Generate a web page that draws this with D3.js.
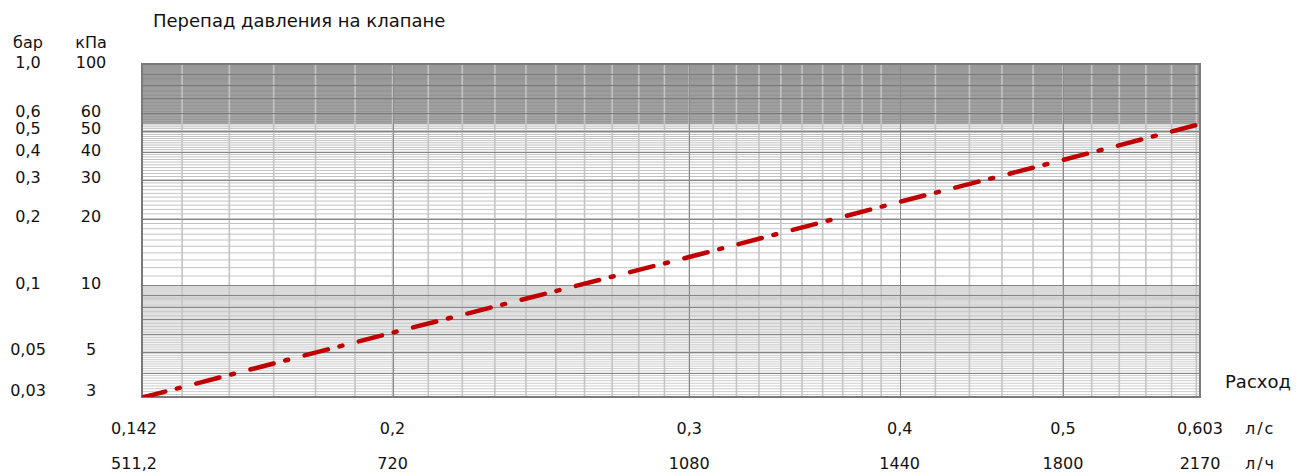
<!DOCTYPE html>
<html>
<head>
<meta charset="utf-8">
<script src="https://cdn.jsdelivr.net/npm/d3@7"></script>
<style>
	body { margin:0; background:#fff; }
	text { font-family:"DejaVu Sans", sans-serif; fill:#111; }
</style>
</head>
<body>
<div id="chart"></div>
<script>
// расход, л/с и л/ч
var flowLs     = [0.142, 0.2, 0.3, 0.4, 0.5, 0.603];
var flowLsText = ['0,142', '0,2', '0,3', '0,4', '0,5', '0,603'];
var flowLhText = ['511,2', '720', '1080', '1440', '1800', '2170'];
// перепад давления по кривой, кПа
var dpKpa      = [3.1, 6.1, 13.4, 23.8, 36.8, 53.5];
// шкала давления
var kpaTicks   = [100, 60, 50, 40, 30, 20, 10, 5, 3];
var kpaText    = ['100', '60', '50', '40', '30', '20', '10', '5', '3'];
var barText    = ['1,0', '0,6', '0,5', '0,4', '0,3', '0,2', '0,1', '0,05', '0,03'];

var W = 1310, H = 476;
var margin = {top:64, right:110, bottom:79, left:142};
var pw = W - margin.left - margin.right;
var ph = H - margin.top - margin.bottom;

var svg = d3.select('#chart').append('svg')
	.attr('width', W)
	.attr('height', H);

var x = d3.scaleLog().domain([0.142, 0.603]).range([margin.left, margin.left + pw]);
var y = d3.scaleLog().domain([3.12, 100]).range([margin.top + ph, margin.top]);

var dpMax = dpKpa[dpKpa.length - 1];

svg.append('defs').append('clipPath').attr('id', 'plotClip')
	.append('rect')
	.attr('x', margin.left).attr('y', margin.top)
	.attr('width', pw).attr('height', ph);

var grid = svg.append('g').attr('clip-path', 'url(#plotClip)');

// тёмная полоса выше максимального перепада
grid.append('rect')
	.attr('x', margin.left)
	.attr('y', y(100))
	.attr('width', pw)
	.attr('height', y(dpMax) - y(100))
	.attr('fill', '#b0b0b0');

// мелкие горизонтальные линии
var hMinor = d3.range(31, 100).map(function(d){ return d / 10; })
	.concat(d3.range(11, 100));
grid.selectAll('line.hmin').data(hMinor).enter().append('line')
	.attr('class', 'hmin')
	.attr('x1', margin.left).attr('x2', margin.left + pw)
	.attr('y1', function(d){ return y(d); })
	.attr('y2', function(d){ return y(d); })
	.attr('stroke', function(d){ return d > dpMax ? '#939393' : (d < 10 ? '#cdcdcd' : '#c2c2c2'); })
	.attr('stroke-width', 1);

// вертикальные линии
var vMinor = d3.range(15, 40).map(function(d){ return d / 100; })
	.concat(d3.range(21, 31).map(function(d){ return d / 50; }));
grid.selectAll('line.vmin').data(vMinor).enter().append('line')
	.attr('class', 'vmin')
	.attr('x1', function(d){ return x(d); })
	.attr('x2', function(d){ return x(d); })
	.attr('y1', margin.top).attr('y2', margin.top + ph)
	.attr('stroke', '#c4c4c4')
	.attr('stroke-width', 1.6);

// основные горизонтальные
var hMajor = [4, 5, 6, 7, 8, 9, 10, 20, 30, 40, 50, 60, 70, 80, 90];
grid.selectAll('line.hmaj').data(hMajor).enter().append('line')
	.attr('class', 'hmaj')
	.attr('x1', margin.left).attr('x2', margin.left + pw)
	.attr('y1', function(d){ return Math.round(y(d)) + 0.5; })
	.attr('y2', function(d){ return Math.round(y(d)) + 0.5; })
	.attr('stroke', function(d){ return d > dpMax ? '#7a7a7a' : '#858585'; })
	.attr('stroke-width', 1);

// основные вертикальные
var vMajor = [0.2, 0.3, 0.4, 0.5];
grid.selectAll('line.vmaj').data(vMajor).enter().append('line')
	.attr('class', 'vmaj')
	.attr('x1', function(d){ return Math.round(x(d)) + 0.5; })
	.attr('x2', function(d){ return Math.round(x(d)) + 0.5; })
	.attr('y1', margin.top).attr('y2', margin.top + ph)
	.attr('stroke', '#8a8a8a')
	.attr('stroke-width', 1);

// рамка
svg.append('rect')
	.attr('x', margin.left).attr('y', margin.top)
	.attr('width', pw).attr('height', ph)
	.attr('fill', 'none')
	.attr('stroke', '#7a7a7a')
	.attr('stroke-width', 2);

// кривая
var pts = flowLs.map(function(q, i){ return [q, dpKpa[i]]; });
svg.append('path')
	.datum(pts)
	.attr('clip-path', 'url(#plotClip)')
	.attr('d', d3.line().x(function(d){ return x(d[0]); }).y(function(d){ return y(d[1]); }))
	.attr('fill', 'none')
	.attr('stroke', '#c00000')
	.attr('stroke-width', 4.5)
	.attr('stroke-linecap', 'round')
	.attr('stroke-dasharray', '24 12 3 17');

// подписи
svg.append('text')
	.attr('x', 153).attr('y', 21).attr('dy', '0.35em')
	.attr('font-size', '18px')
	.text('Перепад давления на клапане');

svg.append('text').attr('x', 28).attr('y', 42).attr('dy', '0.35em')
	.attr('text-anchor', 'middle').attr('font-size', '16px').text('бар');
svg.append('text').attr('x', 91).attr('y', 42).attr('dy', '0.35em')
	.attr('text-anchor', 'middle').attr('font-size', '16px').text('кПа');

var yl = svg.append('g').attr('font-size', '16px');
kpaTicks.forEach(function(v, i){
	var ty = Math.min(y(v) - 2, 390);
	yl.append('text').attr('x', 28).attr('y', ty).attr('dy', '0.35em')
		.attr('text-anchor', 'middle').text(barText[i]);
	yl.append('text').attr('x', 91).attr('y', ty).attr('dy', '0.35em')
		.attr('text-anchor', 'middle').text(kpaText[i]);
});

var xl = svg.append('g').attr('font-size', '16px');
flowLs.forEach(function(q, i){
	var tx = x(q) - (i === 0 ? 8 : 0);
	xl.append('text').attr('x', tx).attr('y', 428).attr('dy', '0.35em')
		.attr('text-anchor', 'middle').text(flowLsText[i]);
	xl.append('text').attr('x', tx).attr('y', 463).attr('dy', '0.35em')
		.attr('text-anchor', 'middle').text(flowLhText[i]);
});
xl.append('text').attr('x', 1245).attr('y', 428).attr('dy', '0.35em')
	.attr('letter-spacing', '2px').text('л/с');
xl.append('text').attr('x', 1245).attr('y', 463).attr('dy', '0.35em')
	.attr('letter-spacing', '2px').text('л/ч');

svg.append('text')
	.attr('x', 1225).attr('y', 382).attr('dy', '0.35em')
	.attr('font-size', '18px')
	.text('Расход');
</script>
</body>
</html>
